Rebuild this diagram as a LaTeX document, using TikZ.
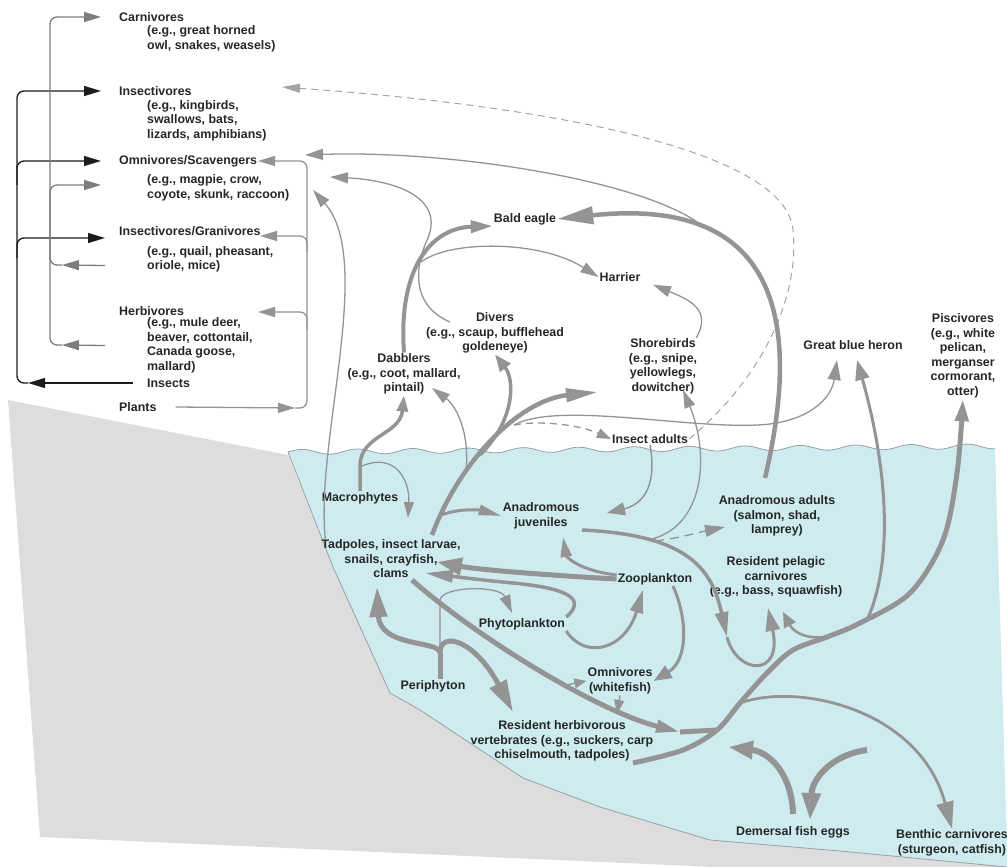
\documentclass[tikz,border=0pt]{standalone}
\usepackage{fontspec}
\setmainfont{Liberation Sans}
\usetikzlibrary{arrows.meta}
\definecolor{water}{RGB}{206,236,240}
\definecolor{land}{RGB}{221,221,221}
\definecolor{flowc}{RGB}{148,148,148}
\definecolor{txtc}{RGB}{38,38,38}
\definecolor{darkc}{RGB}{28,28,28}
\definecolor{sidec}{RGB}{125,125,125}
\definecolor{shorec}{RGB}{150,160,165}
\newcommand\labfont{\bfseries\fontsize{12.4}{14.5}\selectfont}
\tikzset{
  lab/.style={font=\labfont,text=txtc,align=center,inner sep=1pt},
  side/.style={font=\labfont,text=txtc,align=left,inner sep=0pt,anchor=west},
  hd/.style 2 args={-{Triangle[length=#1pt,width=#2pt]}},
  flow/.style={draw=flowc,line width=1.3pt,hd={18}{11}},
  flowmid/.style={draw=flowc,line width=3pt,hd={22}{13}},
  flowfat/.style={draw=flowc,line width=5pt,hd={28}{17}},
  dash7/.style={dash pattern=on 7pt off 5pt},
  blk/.style={draw=darkc,line width=1.3pt,rounded corners=7pt,hd={17}{10}},
  gry/.style={draw=sidec,line width=1.3pt,rounded corners=7pt,hd={17}{10}},
  shore/.style={draw=shorec,line width=0.8pt}
}
\begin{document}
\begin{tikzpicture}[x=1pt,y=-1pt]
\useasboundingbox (0,0) rectangle (1007,867);

% ground and water
\fill[land] (8,400) -- (288,455) -- (333,567) -- (390,693) -- (420,710) -- (523,778) -- (600,807)
  -- (710,840) -- (840,851) -- (1007,866) -- (1007,880) -- (40,837) -- cycle;
\fill[water] (288,452) -- plot[domain=288:995,samples=180] (\x,{452-0.008*(\x-288)-2.5*sin(6.5*(\x-288))})
  -- (1007,845) -- (1007,867) -- (840,851) -- (710,840) -- (600,807) -- (523,778) -- (420,710)
  -- (390,693) -- (333,567) -- cycle;
\draw[shore] plot[domain=288:995,samples=180] (\x,{452-0.008*(\x-288)-2.5*sin(6.5*(\x-288))});
\draw[shore] (288,452) -- (333,567) -- (390,693) -- (420,710) -- (523,778) -- (600,807) -- (710,840)
  -- (840,851) -- (1007,867);

% side panel
\node[side] (carn) at (119,17) {Carnivores};
\node[side] (carn-eg) at (147,39) {(e.g., great horned\\owl, snakes, weasels)};
\node[side] (insv) at (119,91) {Insectivores};
\node[side] (insv-eg) at (147,120.5) {(e.g., kingbirds,\\swallows, bats,\\lizards, amphibians)};
\node[side] (omsc) at (119,161) {Omnivores/Scavengers};
\node[side] (omsc-eg) at (147,188) {(e.g., magpie, crow,\\coyote, skunk, raccoon)};
\node[side] (insg) at (119,231) {Insectivores/Granivores};
\node[side] (insg-eg) at (147,259.5) {(e.g., quail, pheasant,\\oriole, mice)};
\node[side] (herb) at (119,311) {Herbivores};
\node[side] (herb-eg) at (147,345.5) {(e.g., mule deer,\\beaver, cottontail,\\Canada goose,\\mallard)};
\node[side] (insects) at (147,383) {Insects};
\node[side] (plants) at (119,407) {Plants};

% birds and others
\node[lab] (eagle) at (525,219) {Bald eagle};
\node[lab] (harrier) at (620,277) {Harrier};
\node[lab] (divers) at (495,333) {Divers\\(e.g., scaup, bufflehead\\goldeneye)};
\node[lab] (dabblers) at (404,374) {Dabblers\\(e.g., coot, mallard,\\pintail)};
\node[lab] (shore) at (663,366.5) {Shorebirds\\(e.g., snipe,\\yellowlegs,\\dowitcher)};
\node[lab] (insad) at (650,439) {Insect adults};
\node[lab] (heron) at (853,345) {Great blue heron};
\node[lab] (pisc) at (963,356) {Piscivores\\(e.g., white\\pelican,\\merganser\\cormorant,\\otter)};

% in the water
\node[lab] (macro) at (360,498) {Macrophytes};
\node[lab] (tadp) at (391,559) {Tadpoles, insect larvae,\\snails, crayfish,\\clams};
\node[lab] (anjuv) at (541,516) {Anadromous\\juveniles};
\node[lab] (zoo) at (655,579) {Zooplankton};
\node[lab] (phyto) at (522,624) {Phytoplankton};
\node[lab] (peri) at (433,686) {Periphyton};
\node[lab] (omni) at (620,681) {Omnivores\\(whitefish)};
\node[lab] (resherb) at (562,741) {Resident herbivorous\\vertebrates (e.g., suckers, carp\\chiselmouth, tadpoles)};
\node[lab] (anad) at (777,516) {Anadromous adults\\(salmon, shad,\\lamprey)};
\node[lab] (respel) at (776,577) {Resident pelagic\\carnivores\\(e.g., bass, squawfish)};
\node[lab] (eggs) at (793,832) {Demersal fish eggs};
\node[lab] (benth) at (952,843) {Benthic carnivores\\(sturgeon, catfish)};

% junctions and free ends
\coordinate (bk-foot) at (28,383);
\coordinate (bk-b1) at (17,185);
\coordinate (bk-b2) at (17,258);
\coordinate (gl-foot) at (62,345);
\coordinate (gl-mid) at (62,265);
\coordinate (gl-b) at (50,200);
\coordinate (gr-foot) at (295,408);
\coordinate (gr-b1) at (307,330);
\coordinate (gr-b2) at (307,252);
\coordinate (gr-os) at (258,161);
\coordinate (gr-ig) at (260,236);
\coordinate (gr-hb) at (258,312);
\coordinate (os-a) at (305,155);
\coordinate (os-b) at (330,177);
\coordinate (os-c) at (313,190);
\coordinate (ins-d) at (282,87);
\coordinate (ad-top) at (765,478);
\coordinate (j-eagle) at (700,224);
\coordinate (dv-x) at (450,322);
\coordinate (hr-j) at (421,262);
\coordinate (tp-a) at (432,535);
\coordinate (tp-b) at (466,472);
\coordinate (db-tip) at (432,388);
\coordinate (j-dv) at (480,455);
\coordinate (j-hn) at (514,425);
\coordinate (j-aj) at (441,515);
\coordinate (sb-tip) at (598,392);
\coordinate (sb-tip2) at (683,390);
\coordinate (hn-a) at (837,360);
\coordinate (hn-b) at (857,360);
\coordinate (mc-j) at (362,466);
\coordinate (tp-mc) at (408,518);
\coordinate (aj-tip) at (607,513);
\coordinate (aj-out) at (582,530);
\coordinate (j-sb) at (648,540);
\coordinate (j-ad) at (655,541);
\coordinate (ad-tip) at (725,527);
\coordinate (rp-dn) at (727,637);
\coordinate (rp-tip) at (768,608);
\coordinate (rp-tip2) at (783,612);
\coordinate (rh-out) at (633,763);
\coordinate (j-bc) at (740,703);
\coordinate (j-rp) at (860,623);
\coordinate (j-hn2) at (868,618);
\coordinate (tp-c) at (412,580);
\coordinate (tr-a) at (680,732);
\coordinate (tr-b) at (717,730);
\coordinate (j-om) at (566,685);
\coordinate (om-tip) at (617,714);
\coordinate (zo-tip) at (437,562);
\coordinate (zo-aj) at (563,537);
\coordinate (zo-ph) at (643,590);
\coordinate (ph-tip) at (425,573);
\coordinate (ph-in) at (512,613);
\coordinate (pe-top) at (440,653);
\coordinate (pe-tp) at (377,587);
\coordinate (pe-rh) at (513,712);
\coordinate (eg-l) at (793,814);
\coordinate (eg-a) at (728,747);
\coordinate (eg-s) at (867,750);
\coordinate (eg-r) at (810,820);

% side panel links
\draw[blk] ([xshift=-14pt]insects.west) -- (bk-foot);
\draw[blk] (bk-foot) -| (bk-b1) |- ([xshift=-18pt]insv.west);
\draw[blk] (bk-b1) |- ([xshift=-18pt]omsc.west);
\draw[blk] (bk-b2) |- ([xshift=-14pt,yshift=-7pt]insg.west);
\draw[gry] ([xshift=-42pt]herb-eg.west) -- (gl-foot);
\draw[gry] ([xshift=-42pt,yshift=-6pt]insg-eg.west) -- (gl-mid);
\draw[gry] (gl-foot) -| (gl-b) |- ([xshift=-18pt]carn.west);
\draw[gry,-] (gl-mid) -| (gl-b);
\draw[gry] (gl-b) |- ([xshift=-46pt,yshift=3pt]omsc-eg.west);
\draw[gry,draw=flowc] ([xshift=19pt]plants.east) -- (gr-foot);
\draw[gry,draw=flowc] (gr-foot) -| (gr-b1) |- (gr-os);
\draw[gry,draw=flowc] (gr-b1) |- (gr-hb);
\draw[gry,draw=flowc] (gr-b2) |- (gr-ig);

% above the water
\draw[flow,line width=1pt,dash7,draw=flowc!85,hd={18}{9}] (insad.east) .. controls (760,380) and (800,300) .. (793,230)
  .. controls (787,160) and (600,110) .. (ins-d);
\draw[flowfat,line width=4.5pt,hd={36}{17}] (ad-top) .. controls (800,330) and (785,195) .. (eagle.east);
\draw[flow] (j-eagle) .. controls (640,180) and (450,150) .. (os-a);
\draw[flow] (dv-x) .. controls (410,305) and (415,265) .. (428,238) .. controls (445,195) and (390,180) .. (os-b);
\draw[flow] (hr-j) .. controls (450,240) and (540,240) .. (harrier.west);
\draw[flowfat,line width=4pt,hd={22}{12}] (dabblers.north) .. controls (398,270) and (430,228) .. ([yshift=-7pt]eagle.west);
\draw[flow] ([xshift=5pt]tadp.north west) .. controls (315,440) and (375,260) .. (os-c);
\draw[flowmid,line width=3.5pt,hd={16}{11}] (macro.north) -- ++(0,-25) .. controls (360,435) and (400,435) .. (dabblers.south);
\draw[flow,hd={16}{10}] (mc-j) .. controls (395,452) and (410,480) .. (tp-mc);
\draw[flow] (tp-b) .. controls (470,430) and (455,405) .. (db-tip);
\draw[flowfat,line width=4.5pt,hd={32}{13}] (tp-a) .. controls (460,460) and (520,400) .. (sb-tip);
\draw[flowmid,line width=3.5pt,hd={17}{13}] (j-dv) .. controls (515,420) and (515,380) .. (divers.south);
\draw[flow,hd={20}{13}] (j-hn) .. controls (560,400) and (700,432) .. (770,424) .. controls (815,418) and (832,395) .. (hn-a);
\draw[flow,dash7,hd={14}{10}] (j-hn) .. controls (540,420) and (580,425) .. (insad.west);
\draw[flow,line width=1.5pt,hd={18}{13}] (insad.south) .. controls (658,490) and (640,505) .. (aj-tip);
\draw[flow] (j-sb) .. controls (705,528) and (710,455) .. (sb-tip2);
\draw[flow] ([xshift=-2pt]shore.north east) .. controls (712,310) and (690,300) .. ([xshift=33pt,yshift=-2pt]harrier.south);

% in the water
\draw[flowmid,line width=3.5pt,hd={25}{13}] (aj-out) .. controls (690,535) and (712,570) .. (rp-dn);
\draw[flow,dash pattern=on 9pt off 6pt,hd={20}{12}] (j-ad) .. controls (680,538) and (700,532) .. (ad-tip);
\draw[flowmid,hd={23}{14}] (rp-dn) .. controls (737,675) and (783,678) .. (rp-tip);
\draw[flowmid,line width=2.5pt,hd={15}{13}] (j-rp) .. controls (820,648) and (795,635) .. (rp-tip2);
\draw[flowfat,hd={22}{13}] plot[smooth,tension=0.55] coordinates {(rh-out) (683,750) (tr-b) (j-bc) (767,673)
  (793,650) (827,637) (j-rp) (910,593) (943,540) (957,473) (pisc.south)};
\draw[flowmid,hd={20}{14}] (j-hn2) .. controls (893,560) and (888,470) .. (hn-b);
\draw[flowmid,line width=2.8pt,hd={27}{17}] (j-bc) .. controls (800,682) and (920,710) .. (benth.north);
\draw[flowfat,hd={24}{12}] (tp-c) .. controls (480,640) and (600,712) .. (tr-a);
\draw[flowfat,-] (tr-a) -- (tr-b);
\draw[flow,hd={12}{10}] (j-om) -- (omni.west);
\draw[flow,hd={14}{10}] (omni.south) -- (om-tip);
\draw[flowmid,hd={18}{14}] ([xshift=18pt]zoo.south) .. controls (688,620) and (688,660) .. (omni.east);
\draw[flowfat,hd={25}{17}] (zoo.west) .. controls (560,576) and (480,570) .. (zo-tip);
\draw[flowmid,hd={20}{11}] ([yshift=4pt]zoo.west) .. controls (575,570) and (566,555) .. (zo-aj);
\draw[flowmid,line width=3.5pt,hd={28}{12}] (phyto.north east) .. controls (588,598) and (565,588) .. (513,583)
  .. controls (480,580) and (450,576) .. (ph-tip);
\draw[flowmid,hd={23}{10}] (j-aj) .. controls (460,508) and (480,510) .. (anjuv.west);
\draw[flowmid,hd={23}{13}] (phyto.south east) .. controls (585,660) and (625,650) .. (zo-ph);
\draw[flow] (pe-top) -- ++(0,-53) .. controls (442,586) and (500,585) .. (ph-in);
\draw[flowfat,-] (peri.north -| pe-top) -- (pe-top);
\draw[flowfat,hd={30}{17}] (pe-top) .. controls (440,640) and (380,648) .. (pe-tp);
\draw[flowfat,hd={32}{18}] (pe-top) .. controls (440,630) and (475,640) .. (pe-rh);
\draw[flowfat,line width=6pt,hd={25}{17}] (eg-l) .. controls (792,775) and (770,752) .. (eg-a);
\draw[flowfat,line width=6pt,hd={27}{18}] (eg-s) .. controls (830,755) and (812,780) .. (eg-r);
\end{tikzpicture}
\end{document}
